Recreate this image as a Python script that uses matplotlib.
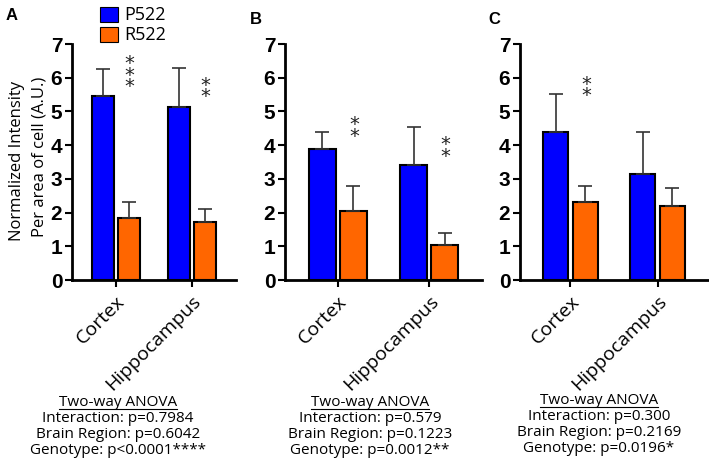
import matplotlib
matplotlib.use("Agg")
import matplotlib.pyplot as plt
from matplotlib.transforms import ScaledTranslation

# Data
regions = ["Cortex", "Hippocampus"]
genotypes = ["P522", "R522"]
colors = ["#0000ff", "#ff6600"]

panel_a_p522 = [5.47, 5.12]
panel_a_p522_err = [0.78, 1.18]
panel_a_r522 = [1.83, 1.72]
panel_a_r522_err = [0.47, 0.40]
panel_a_stars = ["*\n*\n*", "*\n*"]
panel_a_star_y = [6.07, 5.6]

panel_b_p522 = [3.88, 3.40]
panel_b_p522_err = [0.52, 1.15]
panel_b_r522 = [2.05, 1.05]
panel_b_r522_err = [0.75, 0.35]
panel_b_stars = ["*\n*", "*\n*"]
panel_b_star_y = [4.43, 3.84]

panel_c_p522 = [4.40, 3.13]
panel_c_p522_err = [1.12, 1.27]
panel_c_r522 = [2.32, 2.20]
panel_c_r522_err = [0.46, 0.53]
panel_c_stars = ["*\n*", ""]
panel_c_star_y = [5.63, 0]

anova_a = ["Interaction: p=0.7984", "Brain Region: p=0.6042",
           "Genotype: p<0.0001****"]
anova_b = ["Interaction: p=0.579", "Brain Region: p=0.1223",
           "Genotype: p=0.0012**"]
anova_c = ["Interaction: p=0.300", "Brain Region: p=0.2169",
           "Genotype: p=0.0196*"]

W, H = 709, 462
fig = plt.figure(figsize=(W / 100, H / 100), dpi=100)

tick_font = ["Liberation Sans Narrow", "Liberation Sans", "DejaVu Sans"]
text_font = ["Open Sans", "DejaVu Sans"]


def px_axes(left, right, top, bottom):
    return fig.add_axes([left / W, 1 - bottom / H,
                         (right - left) / W, (bottom - top) / H])


def draw_panel(ax, p, perr, r, rerr, stars, star_y):
    x = list(range(len(regions)))
    off = 0.17
    wid = 0.29
    ekw = dict(ecolor="#333333", elinewidth=1.2, capsize=5, capthick=1.2)
    ax.bar([i - off for i in x], p, wid, color=colors[0], edgecolor="black",
           linewidth=1.5, yerr=[[0] * len(p), perr], error_kw=ekw, zorder=3)
    ax.bar([i + off for i in x], r, wid, color=colors[1], edgecolor="black",
           linewidth=1.5, yerr=[[0] * len(r), rerr], error_kw=ekw, zorder=3)
    for i, (s, sy) in enumerate(zip(stars, star_y)):
        if s:
            ax.text(i + 0.18, sy, s, ha="center", va="center", fontsize=14,
                    linespacing=0.5, color="#222222")
    ax.set_xlim(-0.58, 1.58)
    ax.set_ylim(0, 7)
    ax.set_yticks(range(8))
    ax.set_xticks(x)
    ax.set_xticklabels(regions, rotation=45, ha="right", va="top",
                       rotation_mode="anchor", family=text_font, fontsize=14)
    shift = ScaledTranslation(9 / 100, 0, fig.dpi_scale_trans)
    for lab in ax.get_xticklabels():
        lab.set_transform(lab.get_transform() + shift)
    for lab in ax.get_yticklabels():
        lab.set_family(tick_font)
        lab.set_fontweight("bold")
        lab.set_fontsize(15)
    for side in ["top", "right"]:
        ax.spines[side].set_visible(False)
    for side in ["left", "bottom"]:
        ax.spines[side].set_linewidth(2)
    ax.tick_params(axis="both", width=1.5, length=5, pad=2)
    ax.tick_params(axis="x", pad=4)


ax_a = px_axes(72, 236, 44, 280)
draw_panel(ax_a, panel_a_p522, panel_a_p522_err, panel_a_r522,
           panel_a_r522_err, panel_a_stars, panel_a_star_y)
ax_b = px_axes(285, 482, 44, 280)
draw_panel(ax_b, panel_b_p522, panel_b_p522_err, panel_b_r522,
           panel_b_r522_err, panel_b_stars, panel_b_star_y)
ax_c = px_axes(520, 708, 44, 280)
draw_panel(ax_c, panel_c_p522, panel_c_p522_err, panel_c_r522,
           panel_c_r522_err, panel_c_stars, panel_c_star_y)

# Panel letters
for letter, (lx, ly) in zip("ABC", [(12, 15), (256, 20), (494, 20)]):
    fig.text(lx / W, 1 - ly / H, letter, fontsize=12, fontweight="bold",
             family="Liberation Sans", ha="center", va="center")

# Y label
fig.text(17 / W, 1 - 161 / H, "Normalized Intensity", rotation=90,
         family=text_font, fontsize=12, ha="center", va="center")
fig.text(40 / W, 1 - 157 / H, "Per area of cell (A.U.)", rotation=90,
         family=text_font, fontsize=12, ha="center", va="center")

# Legend
for i, (g, c) in enumerate(zip(genotypes, colors)):
    top = 7 + i * 20
    fig.patches.append(plt.Rectangle((100 / W, 1 - (top + 15) / H), 18 / W,
                                     15 / H, transform=fig.transFigure,
                                     facecolor=c, edgecolor="black",
                                     linewidth=0.8))
    fig.text(124 / W, 1 - (top + 7.5) / H, g, family=text_font, fontsize=13,
             ha="left", va="center")

# ANOVA summaries
for cx, ty, lines in [(118, 403, anova_a), (370, 403, anova_b),
                      (599, 401, anova_c)]:
    t = fig.text(cx / W, 1 - ty / H, "Two-way ANOVA", family=text_font,
                 fontsize=11, ha="center", va="center")
    fig.canvas.draw()
    bb = t.get_window_extent()
    fig.add_artist(plt.Line2D([bb.x0 / W, bb.x1 / W],
                              [(bb.y0 + 2) / H, (bb.y0 + 2) / H],
                              transform=fig.transFigure, color="black",
                              linewidth=0.8))
    for k, line in enumerate(lines):
        fig.text(cx / W, 1 - (ty + 16 * (k + 1)) / H, line, family=text_font,
                 fontsize=11, ha="center", va="center")

fig.savefig("out.png", dpi=100)
